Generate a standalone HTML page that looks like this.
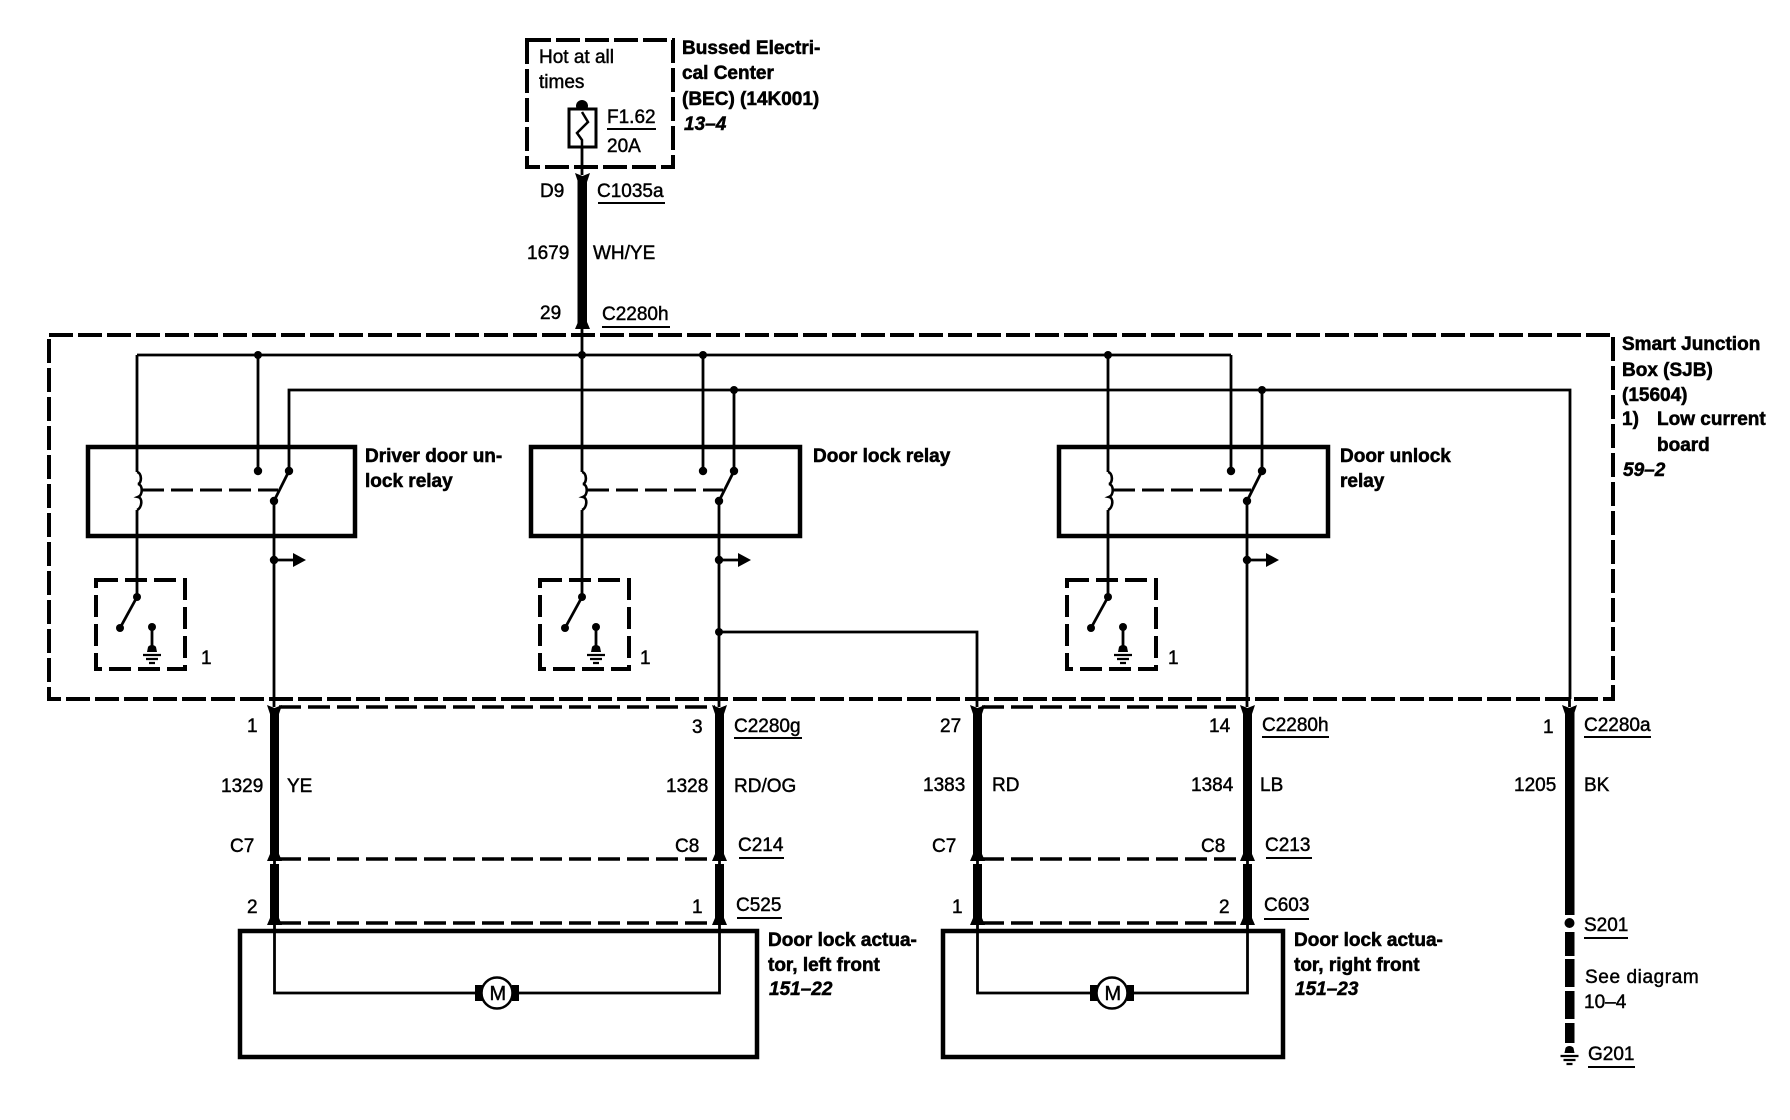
<!DOCTYPE html>
<html><head><meta charset="utf-8"><style>
html,body{margin:0;padding:0;background:#fff}
svg{display:block}
text{font-family:"Liberation Sans",Arial,sans-serif;font-size:19px;fill:#000;stroke:#000;stroke-width:.45}
.b{font-weight:bold;stroke-width:.55}
.i{font-weight:bold;font-style:italic;stroke-width:.5}
.w{fill:none;stroke:#000;stroke-width:2.8}
.d{fill:none;stroke:#000;stroke-width:4;stroke-dasharray:24 5}
.c{fill:none;stroke:#000;stroke-width:3.5;stroke-dasharray:22 7}
.r{fill:none;stroke:#000;stroke-width:4.5}
.u{stroke:#000;stroke-width:2}
</style></head><body>
<svg width="1790" height="1120" viewBox="0 0 1790 1120" xmlns="http://www.w3.org/2000/svg">
<defs>
<path id="fd" d="M-7.5 0L0 3L7.5 0L4.5 9L-4.5 9Z"/>
<path id="fu" d="M-7.5 0L7.5 0L4.5 -7L-4.5 -7Z"/>
<g id="gnd"><path d="M-5 -3L-4 -8A5 5 0 0 1 4 -8L5 -3Z"/><path d="M-9 0H9M-6 4H6M-3 8H3" stroke="#000" stroke-width="2.2"/></g>
<g id="coil">
<path class="w" d="M137 355V472M137 510V597"/>
<path d="M137 472c5 1 5 11 1 12c5 1 5 11 0 13c5 1 4 11 -1 13" fill="none" stroke="#000" stroke-width="2.6"/>
<circle cx="137" cy="597" r="4"/>
<circle cx="120" cy="628" r="4"/>
<path class="w" d="M137 597L120 628"/>
</g>
<g id="sw">
<path class="w" d="M258 355V471"/>
<circle cx="258" cy="471" r="4.2"/>
<circle cx="289" cy="471" r="4.2"/>
<circle cx="274" cy="501" r="4.2"/>
<path class="w" d="M289 471L274 501M274 501V698"/>
<circle cx="274" cy="560" r="4.2"/>
<path class="w" d="M274 560H296"/>
<path d="M293 553L306 560L293 567Z"/>
</g>
<g id="sb">
<rect class="d" x="96" y="580" width="89" height="89" style="stroke-dasharray:22 7"/>
<circle cx="152" cy="627" r="4"/>
<path class="w" d="M152 627V648"/>
<use href="#gnd" x="152" y="655"/>
</g>
</defs>

<!-- BEC -->
<rect class="d" x="527" y="40" width="146" height="127"/>
<circle cx="582" cy="106" r="6"/>
<rect x="569" y="109" width="27" height="38" fill="#fff" stroke="#000" stroke-width="3"/>
<path d="M582 112L588 122L577 133L582 140V147" fill="none" stroke="#000" stroke-width="2.5"/>
<path class="w" d="M582 147V175"/>
<line class="u" x1="607" y1="129" x2="656" y2="129"/>
<rect x="577.5" y="176" width="9.5" height="149"/>
<use href="#fd" x="582.5" y="173"/>
<use href="#fu" x="582.5" y="329"/>
<text x="539" y="63">Hot at all</text>
<text x="539" y="88">times</text>
<text x="607" y="123">F1.62</text>
<text x="607" y="152">20A</text>
<text class="b" x="682" y="54">Bussed Electri-</text>
<text class="b" x="682" y="79">cal Center</text>
<text class="b" x="682" y="105">(BEC) (14K001)</text>
<text class="i" x="684" y="130">13–4</text>
<text x="540" y="197">D9</text>
<text x="597" y="197">C1035a</text><line class="u" x1="598" y1="203" x2="665" y2="203"/>
<text x="527" y="259">1679</text>
<text x="593" y="259">WH/YE</text>
<text x="540" y="319">29</text>
<text x="602" y="320">C2280h</text><line class="u" x1="602" y1="327" x2="670" y2="327"/>

<!-- SJB -->
<rect class="d" x="49" y="335" width="1564" height="364"/>
<path class="w" d="M582 325V355M137 355H1231M289 471V390H1570V699"/>
<rect class="r" x="88" y="447" width="267" height="89"/>
<rect class="r" x="531" y="447" width="269" height="89"/>
<rect class="r" x="1059" y="447" width="269" height="89"/>
<use href="#coil"/><use href="#coil" x="445"/><use href="#coil" x="971"/>
<use href="#sw"/><use href="#sw" x="445"/><use href="#sw" x="973"/>
<use href="#sb"/><use href="#sb" x="444"/><use href="#sb" x="971"/>
<path d="M142 490H278M587 490H723M1113 490H1251" fill="none" stroke="#000" stroke-width="3" stroke-dasharray="22 7"/>
<circle cx="258" cy="355" r="4"/>
<circle cx="582" cy="355" r="4"/>
<circle cx="703" cy="355" r="4"/>
<circle cx="1108" cy="355" r="4"/>
<circle cx="734" cy="390" r="4"/>
<circle cx="1262" cy="390" r="4"/>
<path class="w" d="M734 390V471M1262 390V471"/>
<circle cx="719" cy="632" r="4"/>
<path class="w" d="M719 632H977V699"/>
<text class="b" x="365" y="462">Driver door un-</text>
<text class="b" x="365" y="487">lock relay</text>
<text class="b" x="813" y="462">Door lock relay</text>
<text class="b" x="1340" y="462">Door unlock</text>
<text class="b" x="1340" y="487">relay</text>
<text x="201" y="664">1</text>
<text x="640" y="664">1</text>
<text x="1168" y="664">1</text>
<text class="b" x="1622" y="350">Smart Junction</text>
<text class="b" x="1622" y="376">Box (SJB)</text>
<text class="b" x="1622" y="401">(15604)</text>
<text class="b" x="1622" y="425">1)</text>
<text class="b" x="1657" y="425">Low current</text>
<text class="b" x="1657" y="451">board</text>
<text class="i" x="1623" y="476">59–2</text>

<!-- Thick wires -->
<g>
<path class="w" d="M274 698V707M719 698V707M977 698V707M1247 698V707M1569.5 698V707"/>
<rect x="270" y="709" width="9" height="149"/><rect x="715" y="709" width="9" height="149"/><rect x="973" y="709" width="9" height="149"/><rect x="1243" y="709" width="9" height="149"/>
<rect x="270" y="864" width="9" height="54"/><rect x="715" y="864" width="9" height="54"/><rect x="973" y="864" width="9" height="54"/><rect x="1243" y="864" width="9" height="54"/>
<use href="#fd" x="274.5" y="705"/><use href="#fd" x="719.5" y="705"/><use href="#fd" x="977.5" y="705"/><use href="#fd" x="1247.5" y="705"/><use href="#fd" x="1569.5" y="705"/>
<use href="#fu" x="274.5" y="861"/><use href="#fu" x="719.5" y="861"/><use href="#fu" x="977.5" y="861"/><use href="#fu" x="1247.5" y="861"/>
<use href="#fu" x="274.5" y="925"/><use href="#fu" x="719.5" y="925"/><use href="#fu" x="977.5" y="925"/><use href="#fu" x="1247.5" y="925"/>
<path class="w" d="M274.5 858V866M719.5 858V866M977.5 858V866M1247.5 858V866"/>
</g>
<path class="c" d="M279 707H715M279 859H715M279 923H715M982 707H1243M982 859H1243M982 923H1243"/>
<rect x="1565" y="709" width="9.5" height="206"/>
<circle cx="1569.5" cy="923" r="5"/>
<rect x="1565" y="932" width="9.5" height="24"/>
<rect x="1565" y="959" width="9.5" height="28"/>
<rect x="1565" y="991" width="9.5" height="28"/>
<rect x="1565" y="1023" width="9.5" height="20"/>
<use href="#gnd" x="1569.5" y="1056"/>

<!-- Actuators -->
<rect class="r" x="240" y="931" width="517" height="126"/>
<rect class="r" x="943" y="931" width="340" height="126"/>
<path class="w" d="M274.5 923V993H719.5V923"/>
<path class="w" d="M977.5 923V993H1247.5V923"/>
<g>
<rect x="475" y="985" width="8" height="16"/><rect x="512" y="985" width="7" height="16"/>
<circle cx="497" cy="993" r="15.5" fill="#fff" stroke="#000" stroke-width="2.5"/>
<text x="489.5" y="1000" style="font-size:20px">M</text>
</g>
<g>
<rect x="1090" y="985" width="8" height="16"/><rect x="1127" y="985" width="7" height="16"/>
<circle cx="1112" cy="993" r="15.5" fill="#fff" stroke="#000" stroke-width="2.5"/>
<text x="1104.5" y="1000" style="font-size:20px">M</text>
</g>

<!-- Labels lower -->
<text x="247" y="732">1</text>
<text x="692" y="733">3</text>
<text x="734" y="732">C2280g</text><line class="u" x1="734" y1="738" x2="802" y2="738"/>
<text x="221" y="792">1329</text>
<text x="287" y="792">YE</text>
<text x="666" y="792">1328</text>
<text x="734" y="792">RD/OG</text>
<text x="230" y="852">C7</text>
<text x="675" y="852">C8</text>
<text x="738" y="851">C214</text><line class="u" x1="739" y1="858" x2="784" y2="858"/>
<text x="247" y="913">2</text>
<text x="692" y="913">1</text>
<text x="736" y="911">C525</text><line class="u" x1="737" y1="918" x2="782" y2="918"/>
<text class="b" x="768" y="946">Door lock actua-</text>
<text class="b" x="768" y="971">tor, left front</text>
<text class="i" x="769" y="995">151–22</text>

<text x="940" y="732">27</text>
<text x="1209" y="732">14</text>
<text x="1262" y="731">C2280h</text><line class="u" x1="1262" y1="737" x2="1329" y2="737"/>
<text x="923" y="791">1383</text>
<text x="992" y="791">RD</text>
<text x="1191" y="791">1384</text>
<text x="1260" y="791">LB</text>
<text x="932" y="852">C7</text>
<text x="1201" y="852">C8</text>
<text x="1265" y="851">C213</text><line class="u" x1="1266" y1="858" x2="1312" y2="858"/>
<text x="952" y="913">1</text>
<text x="1219" y="913">2</text>
<text x="1264" y="911">C603</text><line class="u" x1="1264" y1="919" x2="1309" y2="919"/>
<text class="b" x="1294" y="946">Door lock actua-</text>
<text class="b" x="1294" y="971">tor, right front</text>
<text class="i" x="1295" y="995">151–23</text>

<text x="1543" y="733">1</text>
<text x="1584" y="731">C2280a</text><line class="u" x1="1584" y1="737" x2="1651" y2="737"/>
<text x="1514" y="791">1205</text>
<text x="1584" y="791">BK</text>
<text x="1584" y="931">S201</text><line class="u" x1="1584" y1="938" x2="1628" y2="938"/>
<text x="1585" y="983" style="letter-spacing:.6px">See diagram</text>
<text x="1584" y="1008">10–4</text>
<text x="1588" y="1060">G201</text><line class="u" x1="1588" y1="1067" x2="1635" y2="1067"/>
</svg>
</body></html>
